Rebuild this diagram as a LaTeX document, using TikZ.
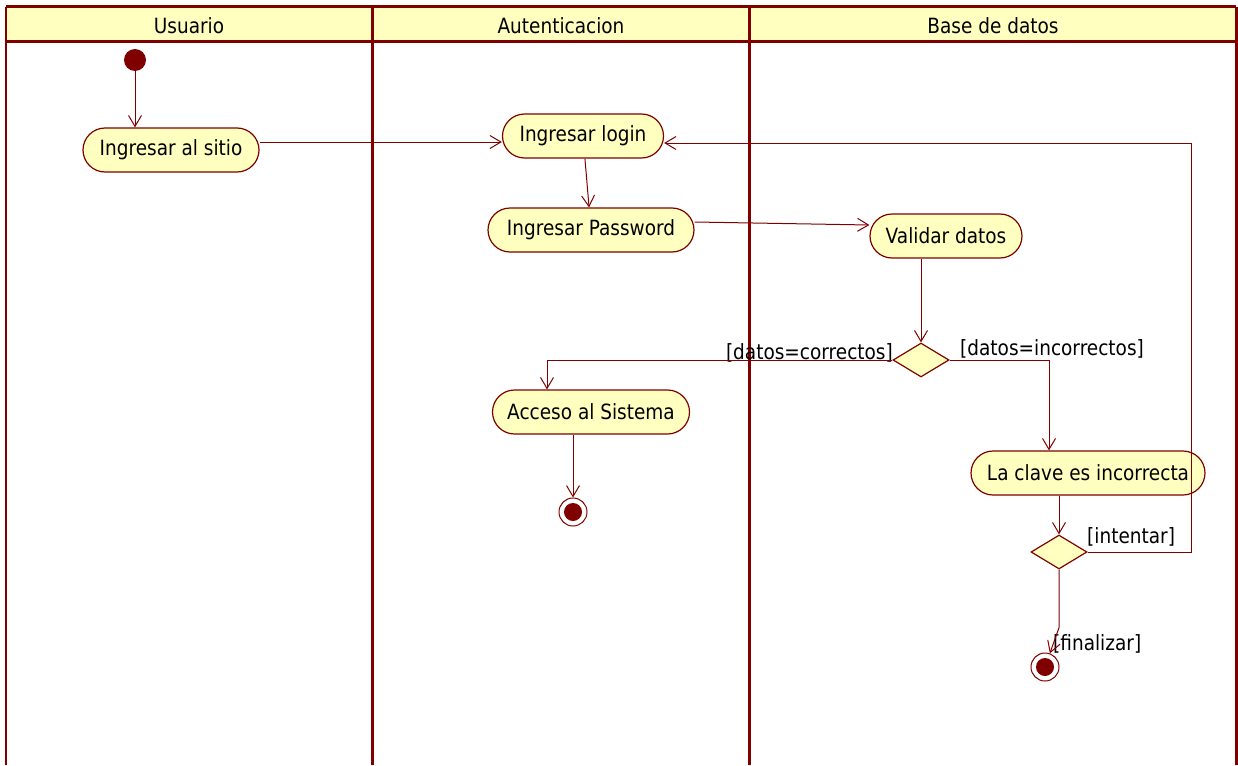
\documentclass[tikz,border=0pt]{standalone}
\usepackage{fontspec}
\setmainfont{DejaVu Sans}[FakeStretch=0.88]
\usetikzlibrary{shapes.geometric,arrows.meta}
\definecolor{umlred}{HTML}{800000}
\definecolor{umlfill}{HTML}{FFFFC0}
\begin{document}
\begin{tikzpicture}[x=1pt,y=-1pt,
  lane/.style={draw=umlred,line width=3pt},
  lbl/.style={font=\fontsize{21}{25}\selectfont,inner sep=0pt},
  act/.style={draw=umlred,fill=umlfill,line width=1.2pt,rounded corners=22pt,
    minimum height=44pt,inner sep=0pt,font=\fontsize{21}{25}\selectfont},
  dec/.style={diamond,draw=umlred,fill=umlfill,line width=1.2pt,
    minimum width=56pt,minimum height=34pt,inner sep=0pt,aspect=1.65},
  initial/.style={circle,fill=umlred,minimum size=22pt,inner sep=0pt},
  final/.style={circle,draw=umlred,fill=white,line width=1pt,minimum size=28pt,inner sep=0pt,
    path picture={\fill[umlred] (path picture bounding box.center) circle (9pt);}},
  flow/.style={draw=umlred,line width=1pt,-{Straight Barb[length=11pt,width=13pt]}},
  guard/.style={font=\fontsize{21}{25}\selectfont,inner sep=0pt}
]
\useasboundingbox (0,0) rectangle (1238,765);

% swimlane header and borders
\fill[umlfill] (6,7) rectangle (1236,42);
\draw[lane] (6,7) -- (1236,7);
\draw[lane] (6,42) -- (1236,42);
\draw[lane,line width=2pt] (6,7) -- (6,765);
\draw[lane] (372,7) -- (372,765);
\draw[lane] (749,7) -- (749,765);
\draw[lane] (1236,7) -- (1236,765);
\node[lbl] (hu) at (189,26) {Usuario};
\node[lbl] (ha) at (561,26) {Autenticacion};
\node[lbl] (hb) at (993,26) {Base de datos};

% activities
\node[initial] (start) at (135,60) {};
\node[act,minimum width=176pt] (sitio) at (171,150) {Ingresar al sitio};
\node[act,minimum width=161pt] (login) at (583,136) {Ingresar login};
\node[act,minimum width=206pt] (pw) at (591,230) {Ingresar Password};
\node[act,minimum width=152pt] (val) at (946,236) {Validar datos};
\node[dec] (d1) at (921,360) {};
\node[act,minimum width=197pt] (acc) at (591,412) {Acceso al Sistema};
\node[final] (f1) at (573,512) {};
\node[act,minimum width=234pt] (clave) at (1088,473) {La clave es incorrecta};
\node[dec] (d2) at (1059,552) {};
\node[final] (f2) at (1045,667) {};
\coordinate (loop) at (1191,143);

% guards
\node[guard,anchor=east] (gc) at (893,353) {[datos=correctos]};
\node[guard,anchor=west] (gi) at (960,349) {[datos=incorrectos]};
\node[guard,anchor=west] (gt) at (1087,537) {[intentar]};
\node[guard,anchor=west] (gf) at (1053,644) {[finalizar]};

% control flows
\draw[flow] (start) -- (start |- sitio.north);
\draw[flow] ([yshift=8pt]sitio.east) -- ([yshift=-6pt]login.west);
\draw[flow] (login) -- (pw);
\draw[flow] ([yshift=8pt]pw.east) -- ([yshift=11pt]val.west);
\draw[flow] (val.south -| d1) -- (d1.north);
\draw[flow] (d1.west) -| ([xshift=-44pt]acc.north);
\draw[flow] (d1.east) -| ([xshift=-39pt]clave.north);
\draw[flow] (acc.south -| f1) -- (f1);
\draw[flow] (clave.south -| d2) -- (d2.north);
\draw[flow] (d2.east) -| (loop) -- (loop -| login.east);
\draw[flow] (d2.south) -- ++(0,58) -- (f2);
\end{tikzpicture}
\end{document}
